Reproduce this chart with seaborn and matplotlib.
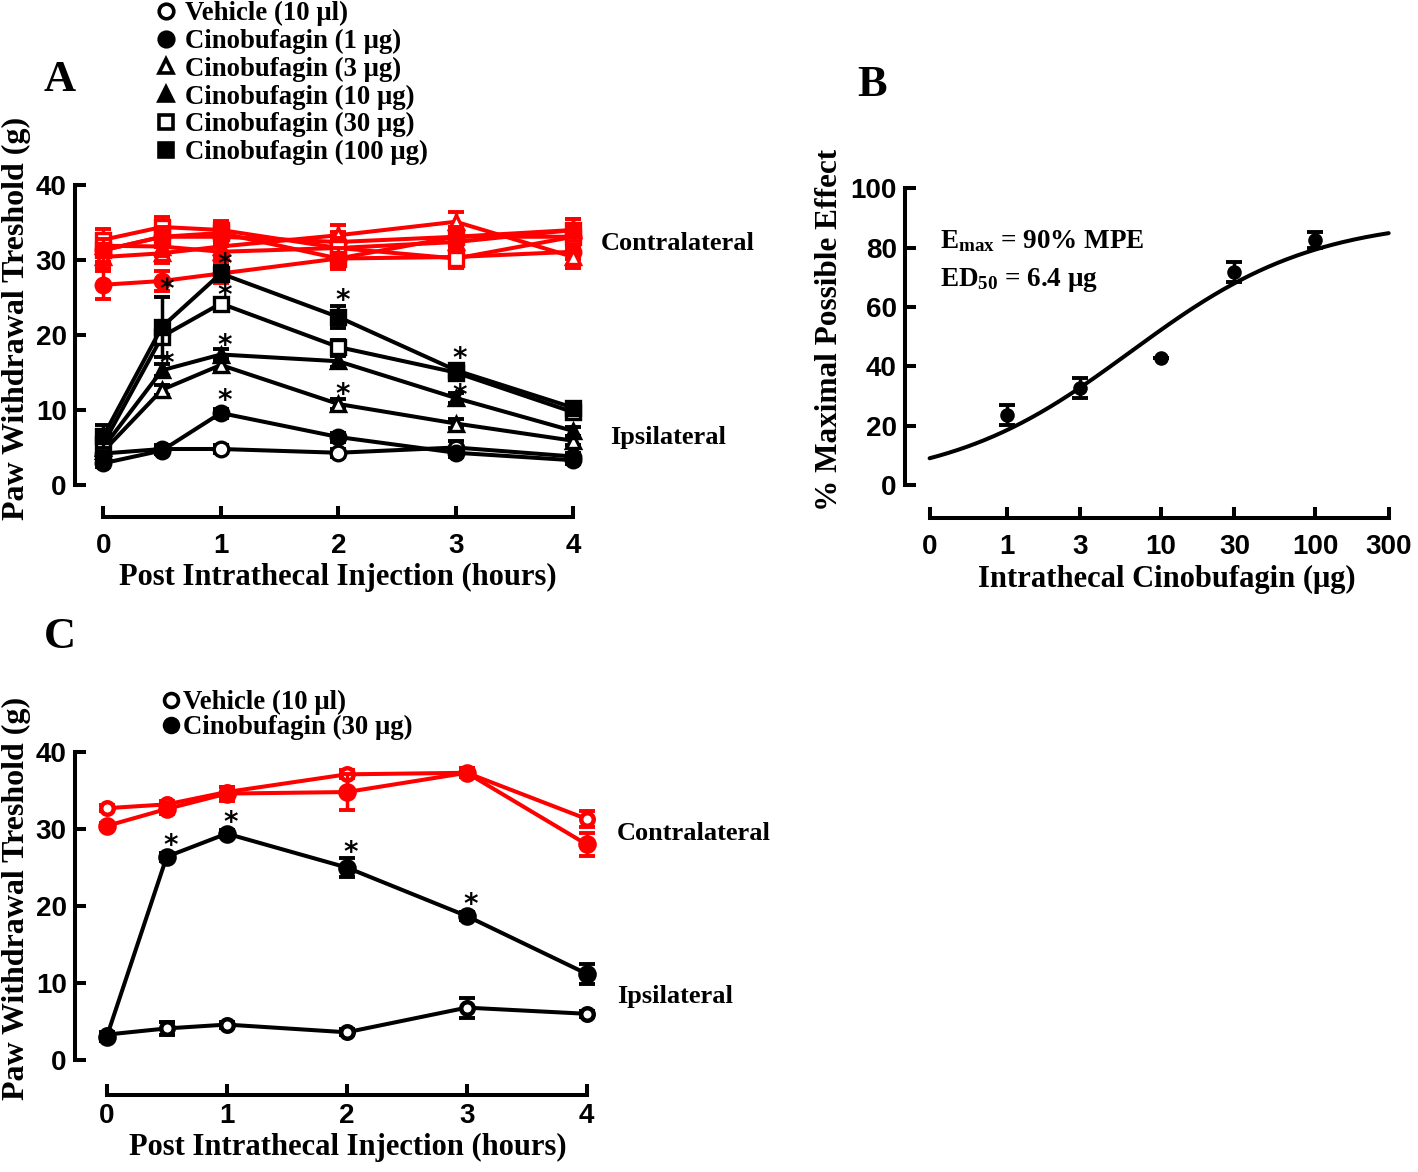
import numpy as np
import pandas as pd
import matplotlib
matplotlib.use("Agg")
import matplotlib.pyplot as plt
from matplotlib.lines import Line2D
import seaborn as sns

# ---------------- datos (media +/- EEM) ----------------
hours = [0, 0.5, 1, 2, 3, 4]

groups_a = ["Vehicle (10 μl)", "Cinobufagin (1 μg)", "Cinobufagin (3 μg)",
            "Cinobufagin (10 μg)", "Cinobufagin (30 μg)", "Cinobufagin (100 μg)"]

# Panel A - ipsilateral
ipsi_veh = [4.2, 4.8, 4.8, 4.3, 5.0, 3.8]
ipsi_1 = [2.9, 4.6, 9.6, 6.4, 4.3, 3.3]
ipsi_3 = [4.5, 12.7, 16.0, 10.8, 8.2, 5.9]
ipsi_10 = [5.0, 15.3, 17.4, 16.5, 11.6, 7.2]
ipsi_30 = [5.5, 19.8, 24.2, 18.4, 15.0, 9.7]
ipsi_100 = [6.5, 21.1, 28.2, 22.4, 15.3, 10.3]
ipsi_veh_sem = [0.5, 0.5, 0.5, 0.5, 0.9, 0.5]
ipsi_1_sem = [0.5, 0.5, 0.6, 0.6, 0.5, 0.5]
ipsi_3_sem = [0.6, 0.7, 0.8, 0.7, 0.6, 0.6]
ipsi_10_sem = [0.8, 0.8, 0.8, 0.7, 0.7, 0.6]
ipsi_30_sem = [0.8, 1.0, 0.8, 1.0, 0.8, 0.8]
ipsi_100_sem = [1.5, 4.0, 1.0, 1.5, 0.8, 0.8]

# Panel A - contralateral
contra_veh = [31.3, 33.1, 33.1, 32.4, 33.1, 33.1]
contra_1 = [26.7, 27.2, 28.2, 30.2, 30.4, 31.1]
contra_3 = [30.4, 30.9, 31.8, 33.3, 35.1, 30.4]
contra_10 = [31.9, 31.8, 31.1, 31.6, 32.4, 34.0]
contra_30 = [32.7, 34.4, 34.0, 31.6, 30.2, 33.1]
contra_100 = [31.3, 33.1, 33.6, 30.2, 33.1, 34.0]
contra_sem = [1.5, 1.3, 1.2, 1.4, 1.3, 1.5]
contra_1_sem = [1.9, 1.3, 1.2, 1.2, 1.0, 1.0]

# asteriscos panel A (hora, altura)
stars_a_t = [0.5, 0.5, 1, 1, 1, 1, 2, 2, 3, 3]
stars_a_v = [27.1, 17.2, 30.4, 26.3, 19.6, 12.3, 25.6, 13.1, 17.8, 12.9]

# Panel B - dosis-respuesta
dose_labels = ["0", "1", "3", "10", "30", "100", "300"]
doses_b = [1, 3, 10, 30, 100]
mpe_b = [23.6, 32.6, 42.7, 71.9, 82.6]
mpe_b_sem = [3.4, 3.4, 0.0, 3.4, 2.8]
EMAX = 90.0
ED50 = 6.4
HILL = 0.73

# Panel C
groups_c = ["Vehicle (10 μl)", "Cinobufagin (30 μg)"]
c_ipsi_veh = [3.3, 4.1, 4.6, 3.6, 6.8, 6.0]
c_ipsi_veh_sem = [0.4, 0.8, 0.4, 0.4, 1.3, 0.4]
c_ipsi_cino = [3.0, 26.4, 29.4, 25.0, 18.7, 11.2]
c_ipsi_cino_sem = [0.5, 0.5, 0.5, 1.2, 0.5, 1.3]
c_contra_veh = [32.7, 33.2, 34.8, 37.1, 37.3, 31.3]
c_contra_veh_sem = [0.4, 0.5, 0.6, 0.5, 0.6, 1.0]
c_contra_cino = [30.4, 32.6, 34.6, 34.8, 37.3, 28.0]
c_contra_cino_sem = [0.4, 0.6, 0.9, 2.3, 0.6, 1.5]
stars_c_t = [0.5, 1, 2, 3]
stars_c_v = [28.8, 31.8, 27.9, 21.2]

# ---------------- estilo ----------------
sns.set_style("ticks")
plt.rcParams["font.family"] = ["Liberation Serif", "DejaVu Serif"]
plt.rcParams["font.weight"] = "bold"
plt.rcParams["text.color"] = "black"
plt.rcParams["axes.labelcolor"] = "black"
plt.rcParams["axes.edgecolor"] = "black"
plt.rcParams["xtick.color"] = "black"
plt.rcParams["ytick.color"] = "black"
plt.rcParams["mathtext.fontset"] = "custom"
plt.rcParams["mathtext.rm"] = "Liberation Serif:bold"
plt.rcParams["mathtext.bf"] = "Liberation Serif:bold"
plt.rcParams["mathtext.it"] = "Liberation Serif:bold:italic"

RED = "#ff0000"
MARKERS = ["o", "o", "^", "^", "s", "s"]
FILLED = [False, True, False, True, False, True]
LW = 2.9
TICKFONT = dict(fontfamily="Liberation Sans", fontweight="bold", fontsize=20)

W, H, DPI = 1418, 1172, 100
fig = plt.figure(figsize=(W / DPI, H / DPI), dpi=DPI)


def P(x, y):
    return x / W, 1 - y / H


def place(xlim, ylim, x0, sx, y0, sy, spine_x, spine_y, xpad):
    # ejes ubicados en pixeles de la figura original
    left, right = x0 + xlim[0] * sx, x0 + xlim[1] * sx
    bottom, top = y0 - ylim[0] * sy, y0 - ylim[1] * sy
    ax = fig.add_axes([left / W, 1 - bottom / H, (right - left) / W, (bottom - top) / H])
    ax.set_xlim(xlim)
    ax.set_ylim(ylim)
    sns.despine(ax=ax)
    ax.spines["left"].set_position(("outward", (left - spine_x) * 72 / DPI))
    ax.spines["bottom"].set_position(("outward", (spine_y - bottom) * 72 / DPI))
    for s in ("left", "bottom"):
        ax.spines[s].set_linewidth(LW)
        ax.spines[s].set_capstyle("projecting")
    ax.tick_params(direction="in", length=8, width=LW, pad=6)
    ax.tick_params(axis="x", pad=xpad)
    ax.set_facecolor("none")
    return ax


def series(ax, x, y, err, color, marker, filled, ms=10.5, mew=2.4, z=3):
    ax.errorbar(x, y, yerr=err, fmt="none", ecolor=color, elinewidth=2.5,
                capsize=6, capthick=2.8, zorder=z, clip_on=False)
    sns.lineplot(x=x, y=y, ax=ax, color=color, lw=LW, marker=marker, markersize=ms,
                 markerfacecolor=color if filled else "white", markeredgecolor=color,
                 markeredgewidth=mew, zorder=z, clip_on=False, sort=False,
                 errorbar=None, legend=False)


def stars(ax, ts, vs):
    for t, v in zip(ts, vs):
        ax.annotate("*", xy=(t, v), xytext=(3, -11.5), textcoords="offset points",
                    ha="center", va="baseline", fontsize=20,
                    fontfamily="DejaVu Sans", fontweight="bold", zorder=6)


# ---------------- Panel A ----------------
axa = place((-0.15, 4.15), (-1.5, 41), 103.3, 117.5, 485, 7.5, 75, 516.7, 11.5)

contra_a = [contra_veh, contra_1, contra_3, contra_10, contra_30, contra_100]
contra_a_sem = [contra_sem, contra_1_sem, contra_sem, contra_sem, contra_sem, contra_sem]
ipsi_a = [ipsi_veh, ipsi_1, ipsi_3, ipsi_10, ipsi_30, ipsi_100]
ipsi_a_sem = [ipsi_veh_sem, ipsi_1_sem, ipsi_3_sem, ipsi_10_sem, ipsi_30_sem, ipsi_100_sem]

for vals, err, m, f in zip(contra_a, contra_a_sem, MARKERS, FILLED):
    series(axa, hours, vals, err, RED, m, f, z=2)
for vals, err, m, f in zip(ipsi_a, ipsi_a_sem, MARKERS, FILLED):
    series(axa, hours, vals, err, "black", m, f, z=3)
stars(axa, stars_a_t, stars_a_v)

axa.spines["left"].set_bounds(0, 40)
axa.spines["bottom"].set_bounds(0, 4)
axa.set_yticks([0, 10, 20, 30, 40], ["0", "10", "20", "30", "40"], **TICKFONT)
axa.set_xticks([0, 1, 2, 3, 4], ["0", "1", "2", "3", "4"], **TICKFONT)
axa.set_xlabel("Post Intrathecal Injection (hours)", fontsize=22, fontweight="bold")
axa.set_ylabel("Paw Withdrawal Treshold (g)", fontsize=23, fontweight="bold")
axa.xaxis.set_label_coords(*P(338, 563), transform=fig.transFigure)
axa.yaxis.set_label_coords(*P(31, 318), transform=fig.transFigure)

handles_a = [Line2D([], [], ls="none", marker=m, color="black", ms=10.5,
                    mfc="black" if f else "white", mew=2.6)
             for m, f in zip(MARKERS, FILLED)]
fig.legend(handles_a, groups_a, loc="upper left", bbox_to_anchor=P(158, 1),
           frameon=False, handlelength=0.6, handletextpad=0.4,
           labelspacing=0.1, borderpad=0, borderaxespad=0,
           prop=dict(family="Liberation Serif", weight="bold", size=19.3))

fig.text(*P(601, 243), "Contralateral", fontsize=19, fontweight="bold", va="center")
fig.text(*P(610, 437), "Ipsilateral", fontsize=19, fontweight="bold", va="center")
fig.text(*P(60, 80), "A", fontsize=32, fontweight="bold", ha="center", va="center")

# ---------------- Panel B ----------------
axb = place((-0.6, 2.58), (-3, 103), 1006.7, 154.2, 485, 2.967, 905, 518.3, 11)
zero_pos = -0.5
tick_pos_b = [zero_pos] + [float(np.log10(float(d))) for d in dose_labels[1:]]

x_fit = np.linspace(zero_pos, np.log10(300), 200)
y_fit = EMAX / (1 + 10 ** ((np.log10(ED50) - x_fit) * HILL))
sns.lineplot(x=x_fit, y=y_fit, ax=axb, color="black", lw=LW, zorder=2)

logd = np.log10(doses_b)
axb.errorbar(logd, mpe_b, yerr=mpe_b_sem, fmt="none", ecolor="black",
             elinewidth=2.5, capsize=6, capthick=2.8, zorder=3)
sns.scatterplot(x=logd, y=mpe_b, ax=axb, color="black", s=110, marker="o",
                edgecolor="black", linewidth=0, zorder=4, legend=False)

axb.spines["left"].set_bounds(0, 100)
axb.spines["bottom"].set_bounds(zero_pos, np.log10(300))
axb.set_yticks([0, 20, 40, 60, 80, 100], ["0", "20", "40", "60", "80", "100"], **TICKFONT)
axb.set_xticks(tick_pos_b, dose_labels, **TICKFONT)
axb.set_xlabel("Intrathecal Cinobufagin (μg)", fontsize=22, fontweight="bold")
axb.set_ylabel("% Maximal Possible Effect", fontsize=22.5, fontweight="bold")
axb.xaxis.set_label_coords(*P(1167, 565), transform=fig.transFigure)
axb.yaxis.set_label_coords(*P(844, 330), transform=fig.transFigure)

fig.text(*P(940, 248), r"$\mathrm{E}_{\mathrm{max}}$ = 90% MPE", fontsize=19.5,
         fontweight="bold", va="baseline")
fig.text(*P(940, 286), r"$\mathrm{ED}_{\mathrm{50}}$ = 6.4 μg", fontsize=19.5,
         fontweight="bold", va="baseline")
fig.text(*P(872, 85), "B", fontsize=32, fontweight="bold", ha="center", va="center")

# ---------------- Panel C ----------------
axc = place((-0.15, 4.15), (-1.5, 41), 106.7, 120, 1060, 7.7, 75, 1095, 6)

series(axc, hours, c_contra_veh, c_contra_veh_sem, RED, "o", False, ms=9, mew=3.2, z=2)
series(axc, hours, c_contra_cino, c_contra_cino_sem, RED, "o", True, ms=11, z=2)
series(axc, hours, c_ipsi_veh, c_ipsi_veh_sem, "black", "o", False, ms=9, mew=3.2, z=3)
series(axc, hours, c_ipsi_cino, c_ipsi_cino_sem, "black", "o", True, ms=11, z=3)
stars(axc, stars_c_t, stars_c_v)

axc.spines["left"].set_bounds(0, 40)
axc.spines["bottom"].set_bounds(0, 4)
axc.set_yticks([0, 10, 20, 30, 40], ["0", "10", "20", "30", "40"], **TICKFONT)
axc.set_xticks([0, 1, 2, 3, 4], ["0", "1", "2", "3", "4"], **TICKFONT)
axc.set_xlabel("Post Intrathecal Injection (hours)", fontsize=22, fontweight="bold")
axc.set_ylabel("Paw Withdrawal Treshold (g)", fontsize=23, fontweight="bold")
axc.xaxis.set_label_coords(*P(348, 1133), transform=fig.transFigure)
axc.yaxis.set_label_coords(*P(31, 898), transform=fig.transFigure)

handles_c = [Line2D([], [], ls="none", marker="o", color="black", ms=10,
                    mfc=fc, mew=2.6) for fc in ("white", "black")]
fig.legend(handles_c, groups_c, loc="upper left", bbox_to_anchor=P(163, 690),
           frameon=False, handlelength=0.6, handletextpad=0.16,
           labelspacing=0.0, borderpad=0, borderaxespad=0,
           prop=dict(family="Liberation Serif", weight="bold", size=19.3))

fig.text(*P(617, 834), "Contralateral", fontsize=19, fontweight="bold", va="center")
fig.text(*P(617, 997), "Ipsilateral", fontsize=19, fontweight="bold", va="center")
fig.text(*P(60, 637), "C", fontsize=32, fontweight="bold", ha="center", va="center")

fig.savefig("out.png", dpi=DPI, facecolor="white")
